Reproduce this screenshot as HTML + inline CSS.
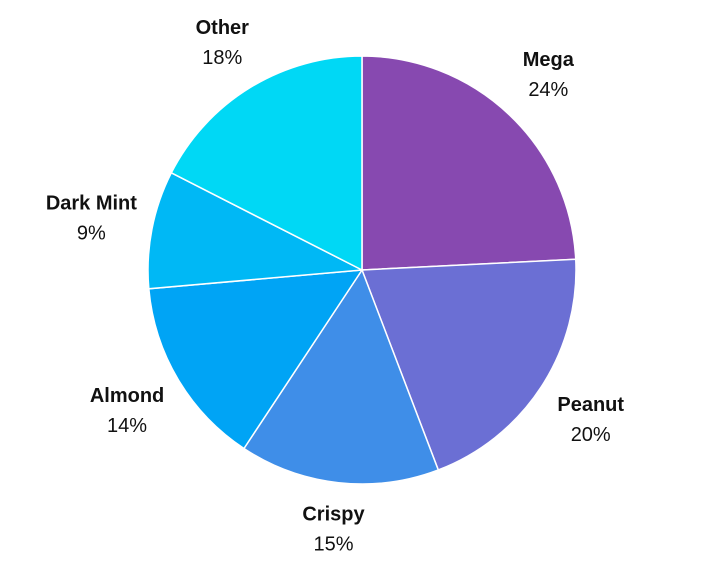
<!DOCTYPE html>
<html><head><meta charset="utf-8"><style>
body{margin:0;background:#fff;}
svg{display:block;font-family:"Liberation Sans",sans-serif;}
</style></head><body>
<svg id="chart" width="710" height="570"></svg>
<script>
const categories=["Mega","Peanut","Crispy","Almond","Dark Mint","Other"];
const values=[24.2,20,15.1,14.3,8.9,17.5];
const colors=["#8749b0","#6b6fd4","#3f8ee8","#00a4f5","#00b8f5","#00d8f5"];
const svg=document.getElementById('chart');
const NS="http://www.w3.org/2000/svg";
const cx=362,cy=270,r=214;
const total=values.reduce((a,b)=>a+b,0);
let acc=0;
function pt(a,rad){return [cx+rad*Math.sin(a),cy-rad*Math.cos(a)];}
values.forEach((v,i)=>{
  const a0=acc/total*2*Math.PI;acc+=v;const a1=acc/total*2*Math.PI;
  const [x0,y0]=pt(a0,r),[x1,y1]=pt(a1,r);
  const p=document.createElementNS(NS,'path');
  p.setAttribute('d',`M${cx},${cy}L${x0},${y0}A${r},${r} 0 ${a1-a0>Math.PI?1:0} 1 ${x1},${y1}Z`);
  p.setAttribute('fill',colors[i]);p.setAttribute('stroke','#fff');p.setAttribute('stroke-width','1.5');
  
  
  svg.appendChild(p);
  const am=(a0+a1)/2;
  const lr=258+18*Math.abs(Math.sin(am));
  const [lx,ly]=pt(am,lr);
  const g=document.createElementNS(NS,'g');
  
  
  const t1=document.createElementNS(NS,'text');
  t1.setAttribute('x',lx);t1.setAttribute('y',ly-8);t1.setAttribute('text-anchor','middle');
  t1.setAttribute('font-size','20');t1.setAttribute('font-weight','bold');t1.setAttribute('fill','#111');
  t1.textContent=categories[i];
  const t2=document.createElementNS(NS,'text');
  t2.setAttribute('x',lx);t2.setAttribute('y',ly+22);t2.setAttribute('text-anchor','middle');
  t2.setAttribute('font-size','20');t2.setAttribute('fill','#111');
  t2.textContent=Math.round(v/total*100)+'%';
  g.appendChild(t1);g.appendChild(t2);svg.appendChild(g);
});
</script>
</body></html>
